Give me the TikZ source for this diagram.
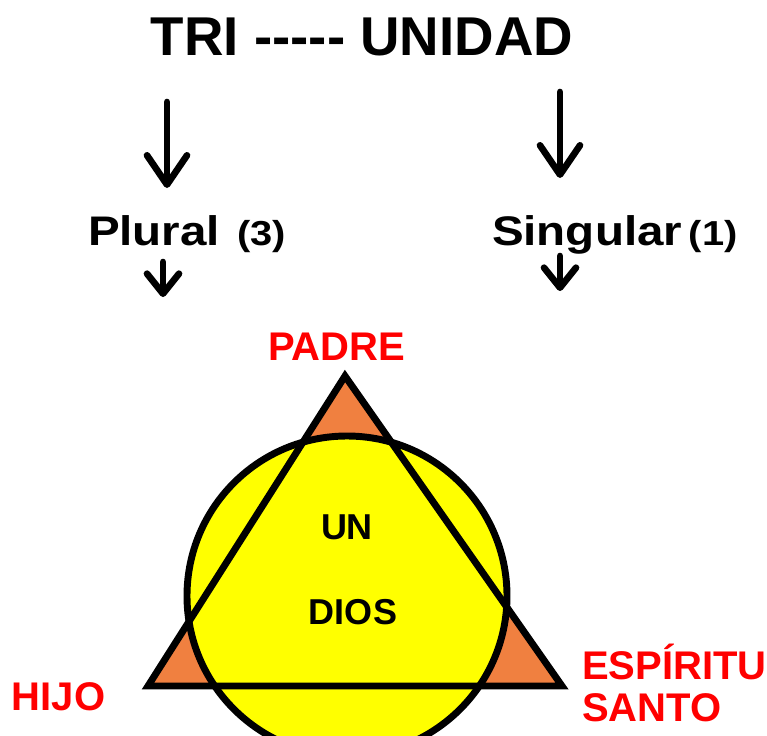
\documentclass[tikz,border=0pt]{standalone}
\usepackage{fontspec}
\setmainfont{Liberation Sans}
\newfontfamily\widefont{Liberation Sans Bold}[FakeStretch=1.15]
\usetikzlibrary{arrows.meta}
\definecolor{trired}{RGB}{255,0,0}
\definecolor{triorange}{RGB}{240,128,64}
\definecolor{triyellow}{RGB}{255,255,0}
\begin{document}
\begin{tikzpicture}[x=0.75pt,y=-0.75pt]
\tikzstyle{every node}=[inner sep=0pt,outer sep=0pt]
\tikzstyle{bigarrow}=[line width=5pt,line cap=round,-{Straight Barb[length=22pt,width=30pt,line width=5pt,round]}]
\tikzstyle{smallarrow}=[line width=5pt,line cap=round,-{Straight Barb[length=15pt,width=24pt,line width=5pt,round]}]
\tikzstyle{redlabel}=[text=trired,font=\fontsize{30}{32}\selectfont\bfseries,align=left]

\clip (0,0) rectangle (767,735);

% heading
\node (title) at (362,37) {\fontsize{41}{41}\selectfont\bfseries TRI -{}-{}-{}-{}- UNIDAD};

\node[anchor=base west] (plural) at (88,245)
  {\widefont\fontsize{31}{31}\selectfont Plural\hspace{13pt}\fontsize{26}{26}\selectfont(3)};
\node[anchor=base west] (singular) at (492,245)
  {\widefont\fontsize{31}{31}\selectfont Singular\hspace{5pt}\fontsize{26}{26}\selectfont(1)};

% arrows
\coordinate (ltop) at (167,102);
\coordinate (lend) at (167,188);
\coordinate (rtop) at (560,92);
\coordinate (rend) at (560,178);
\coordinate (lsub) at (163,262);
\coordinate (lsubend) at (163,297);
\coordinate (rsub) at (560,256);
\coordinate (rsubend) at (560,291);
\draw[bigarrow] (ltop) -- (lend);
\draw[bigarrow] (rtop) -- (rend);
\draw[smallarrow] (lsub) -- (lsubend);
\draw[smallarrow] (rsub) -- (rsubend);

% triangle and circle
\coordinate (apex) at (345,376);
\coordinate (bl) at (148,686);
\coordinate (br) at (562,686);
\coordinate (godc) at (347,596);
\fill[triorange] (apex) -- (bl) -- (br) -- cycle;
\fill[triyellow] (godc) circle[radius=160];
\draw[line width=5.2pt,line join=miter] (apex) -- (bl) -- (br) -- cycle;
\draw[line width=5.2pt] (godc) circle[radius=160];

\node (un) at (347,527) {\fontsize{27}{27}\selectfont\bfseries UN};
\node (dios) at (353,612) {\fontsize{27}{27}\selectfont\bfseries DIOS};

% persons
\node[redlabel,anchor=base west] (padre) at (268,360) {PADRE};
\node[redlabel,anchor=base west] (hijo) at (12,710) {HIJO};
\node[redlabel,anchor=west] (espiritu) at (582,683) {ESPÍRITU\\SANTO};
\end{tikzpicture}
\end{document}
